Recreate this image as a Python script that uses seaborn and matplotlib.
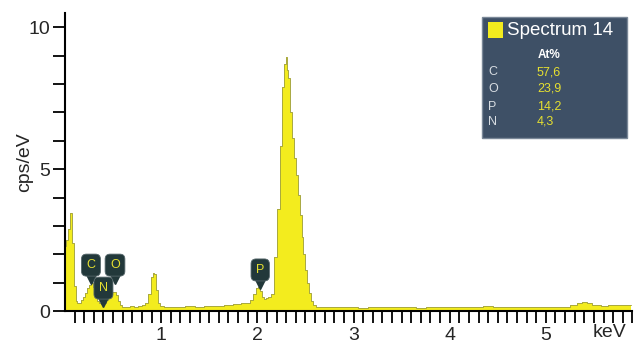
import numpy as np
import pandas as pd
import matplotlib.pyplot as plt
import matplotlib.patches as mpatches
import seaborn as sns

# EDS spectrum (keV, cps/eV)
energy = [0.00, 0.02, 0.04, 0.06, 0.08, 0.10, 0.12, 0.14, 0.16, 0.18,
          0.20, 0.22, 0.24, 0.26, 0.28, 0.30, 0.32, 0.34, 0.36, 0.38,
          0.40, 0.42, 0.44, 0.46, 0.48, 0.50, 0.52, 0.54, 0.56, 0.58,
          0.60, 0.62, 0.66, 0.70, 0.74, 0.78, 0.82, 0.85, 0.88, 0.90,
          0.92, 0.94, 0.96, 0.98, 1.00, 1.05, 1.10, 1.20, 1.30, 1.40,
          1.50, 1.60, 1.70, 1.80, 1.86, 1.90, 1.94, 1.97, 2.00, 2.02,
          2.04, 2.06, 2.08, 2.10, 2.13, 2.16, 2.19, 2.22, 2.25, 2.27,
          2.29, 2.30, 2.31, 2.33, 2.35, 2.37, 2.39, 2.41, 2.43, 2.45,
          2.47, 2.49, 2.51, 2.53, 2.55, 2.57, 2.59, 2.62, 2.70, 2.80,
          2.90, 3.00, 3.10, 3.20, 3.30, 3.40, 3.50, 3.60, 3.70, 3.80,
          3.90, 4.00, 4.10, 4.20, 4.30, 4.40, 4.50, 4.60, 4.70, 4.80,
          4.90, 5.00, 5.10, 5.20, 5.30, 5.35, 5.40, 5.45, 5.50, 5.55,
          5.60, 5.70, 5.80, 5.89]
counts = [2.30, 2.50, 2.90, 3.45, 2.40, 0.90, 0.35, 0.28, 0.30, 0.38,
          0.50, 0.65, 0.80, 0.92, 0.98, 0.85, 0.55, 0.35, 0.28, 0.26,
          0.27, 0.30, 0.38, 0.50, 0.62, 0.68, 0.66, 0.55, 0.35, 0.22,
          0.16, 0.14, 0.15, 0.17, 0.16, 0.19, 0.22, 0.30, 0.60, 1.20,
          1.35, 1.30, 0.75, 0.30, 0.18, 0.15, 0.14, 0.15, 0.17, 0.16,
          0.18, 0.19, 0.21, 0.24, 0.27, 0.30, 0.38, 0.60, 0.82, 0.85,
          0.70, 0.50, 0.42, 0.45, 0.50, 0.62, 1.90, 3.60, 5.80, 7.90,
          8.70, 8.95, 8.50, 8.20, 7.00, 6.10, 5.40, 4.80, 4.10, 3.40,
          2.60, 2.00, 1.45, 0.98, 0.63, 0.35, 0.20, 0.15, 0.14, 0.13,
          0.15, 0.13, 0.12, 0.14, 0.13, 0.15, 0.13, 0.14, 0.12, 0.14,
          0.15, 0.13, 0.14, 0.15, 0.14, 0.17, 0.14, 0.15, 0.14, 0.13,
          0.15, 0.14, 0.15, 0.16, 0.22, 0.30, 0.33, 0.30, 0.22, 0.20,
          0.18, 0.20, 0.22, 0.20]

# peak labels and quantification table
peak_elems = ["C", "N", "O", "P"]
peak_energy = [0.27, 0.40, 0.52, 2.03]
table_elems = ["C", "O", "P", "N"]
table_at = ["57,6", "23,9", "14,2", "4,3"]

df = pd.DataFrame({"keV": energy, "cps": counts})

sns.set_style("ticks")
plt.rcParams["font.family"] = ["Liberation Sans", "DejaVu Sans"]

fig = plt.figure(figsize=(6.34, 3.43), dpi=100)
ax = fig.add_axes([0.1025, 0.093, 0.895, 0.869])

ax.fill_between(df["keV"], df["cps"], step="mid", color="#f3ec1e", lw=0)
sns.lineplot(data=df, x="keV", y="cps", ax=ax, drawstyle="steps-mid",
             color="#a8a840", lw=0.7)

ax.set_xlim(0, 5.89)
ax.set_ylim(0, 10.5)
ax.set_xticks([1, 2, 3, 4, 5])
ax.set_xticks(np.arange(0.1, 5.9, 0.1), minor=True)
ax.set_yticks([0, 5, 10])
ax.set_yticks(np.arange(0, 11, 1), minor=True)
ax.tick_params(axis="both", which="both", length=8.5, width=1.3, color="black",
               labelsize=14, direction="out")
ax.tick_params(axis="x", pad=3)
ax.tick_params(axis="y", pad=2)
ax.set_xlabel("")
ax.set_ylabel("cps/eV", fontsize=14)
ax.yaxis.set_label_coords(-0.057, 0.5)
for s in ["left", "bottom"]:
    ax.spines[s].set_linewidth(1.5)
    ax.spines[s].set_color("black")
sns.despine(ax=ax)
ax.text(5.66, -0.042, "keV", transform=ax.get_xaxis_transform(),
        ha="center", va="top", fontsize=14)

# element marker labels
label_y = {"C": 1.62, "N": 0.81, "O": 1.62, "P": 1.45}
for el, e in zip(peak_elems, peak_energy):
    y = label_y[el]
    ax.plot([e], [y - 0.5], marker="v", ms=7, color="#22383a", zorder=4)
    ax.text(e, y, el, ha="center", va="center", fontsize=9, color="#e6e030",
            zorder=5,
            bbox=dict(boxstyle="round,pad=0.4", fc="#22383a", ec="#55666a", lw=0.6))

# quantification panel
fig.patches.append(mpatches.Rectangle((0.760, 0.598), 0.229, 0.353,
                                      transform=fig.transFigure,
                                      fc="#3e5066", ec="#7a8898", lw=1.0))
fig.patches.append(mpatches.Rectangle((0.769, 0.889), 0.025, 0.047,
                                      transform=fig.transFigure,
                                      fc="#f3ec1e", ec="none"))
fig.text(0.800, 0.912, "Spectrum 14", color="white", fontsize=13.5,
         va="center", ha="left")
fig.text(0.866, 0.840, "At%", color="white", fontsize=8.5,
         fontweight="bold", va="center", ha="center")
row_y = [0.790, 0.741, 0.689, 0.645]
for el, val, yy in zip(table_elems, table_at, row_y):
    fig.text(0.770, yy, el, color="#d8dde2", fontsize=9, va="center")
    fig.text(0.847, yy, val, color="#e6e030", fontsize=9, va="center")

fig.savefig("out.png", dpi=100)
